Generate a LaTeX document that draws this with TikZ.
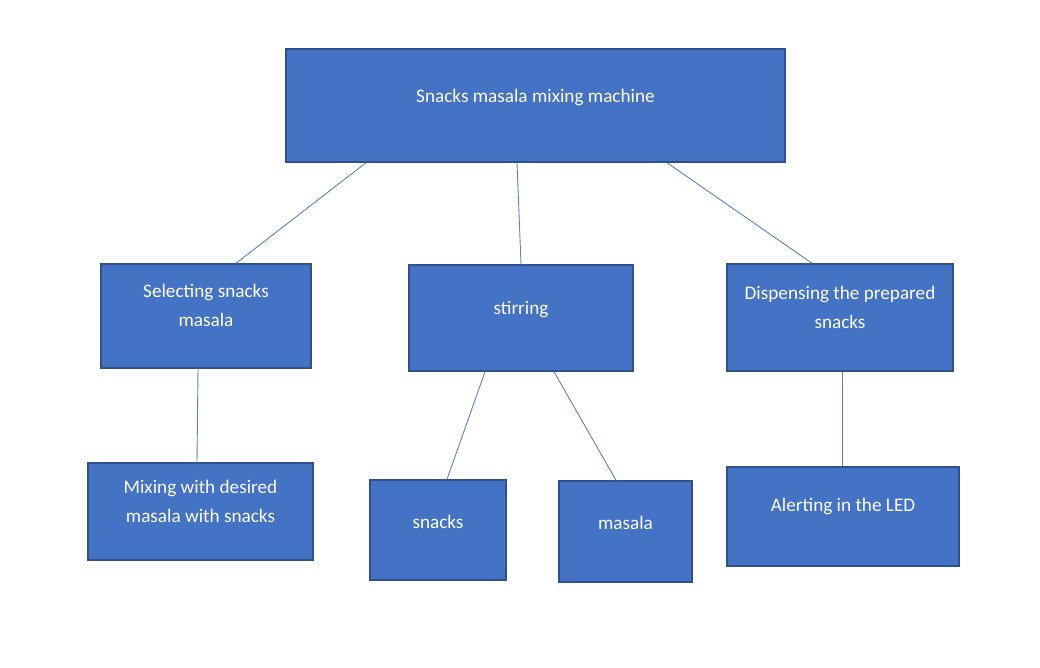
\documentclass[tikz,border=0pt]{standalone}
\usepackage{fontspec}
\setmainfont{Carlito}
\definecolor{boxfill}{HTML}{4472C4}
\definecolor{boxline}{HTML}{2F528F}
\definecolor{linkline}{HTML}{5B82C8}
\tikzset{
  box/.style={draw=boxline, fill=boxfill, line width=1.5pt, inner sep=0pt},
  lbl/.style={text=white, align=center, font=\fontsize{19.2}{29}\selectfont},
  link/.style={draw=linkline, line width=0.9pt}
}
\begin{document}
\begin{tikzpicture}[x=1pt,y=1pt]

\def \up{10.5}
\def \uponeline{8.5}

\useasboundingbox [fill=white] (0,0) rectangle (1040,667);

% top level
\node [box, minimum width=499, minimum height=113,
  label={[lbl, yshift=\uponeline]center:Snacks masala mixing machine}] (machine) at (535.5,561.5) {};

% second level
\node [box, minimum width=210, minimum height=104,
  label={[lbl, yshift=\up]center:Selecting snacks\\masala}] (select) at (206,351) {};
\node [box, minimum width=224, minimum height=106,
  label={[lbl, yshift=\uponeline]center:stirring}] (stir) at (521,349) {};
\node [box, minimum width=226, minimum height=107,
  label={[lbl, yshift=\up]center:Dispensing the prepared\\snacks}] (dispense) at (840,349.5) {};

% third level
\node [box, minimum width=225, minimum height=97,
  label={[lbl, yshift=\up]center:Mixing with desired\\masala with snacks}] (mixing) at (200.5,155.5) {};
\node [box, minimum width=136, minimum height=100,
  label={[lbl, yshift=\uponeline]center:snacks}] (snacks) at (438,137) {};
\node [box, minimum width=133, minimum height=101,
  label={[lbl, yshift=\uponeline]center:masala}] (masala) at (625.5,135.5) {};
\node [box, minimum width=232, minimum height=99,
  label={[lbl, yshift=\up]center:Alerting in the LED}] (alert) at (843,150.5) {};

% connectors
\draw [link] ([xshift=-169.5]machine.south) -- ([xshift=30]select.north);
\draw [link] ([xshift=-18.5]machine.south) -- ([xshift=0]stir.north);
\draw [link] ([xshift=131.5]machine.south) -- ([xshift=-28]dispense.north);
\draw [link] ([xshift=-8]select.south) -- ([xshift=-3.5]mixing.north);
\draw [link] ([xshift=-36]stir.south) -- ([xshift=9]snacks.north);
\draw [link] ([xshift=33]stir.south) -- ([xshift=-9.5]masala.north);
\draw [link] ([xshift=2]dispense.south) -- ([xshift=-1]alert.north);
\end{tikzpicture}
\end{document}
